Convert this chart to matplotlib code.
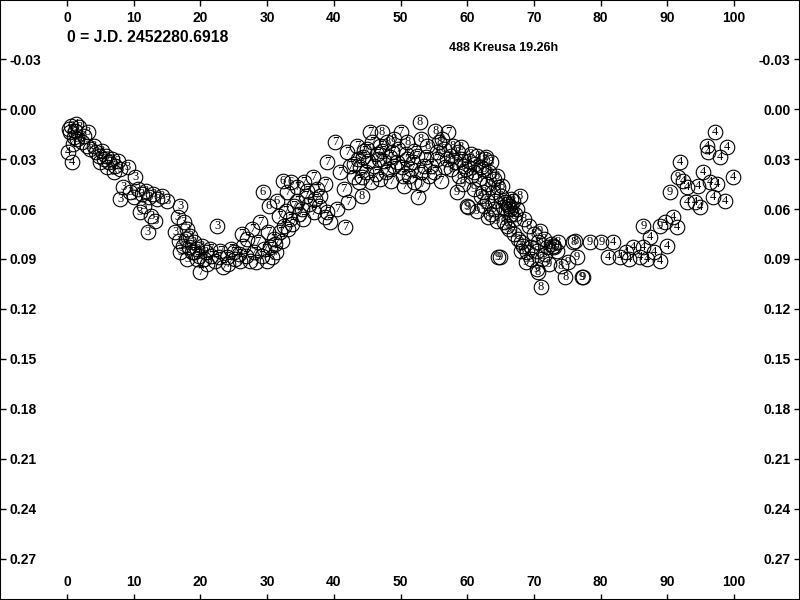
import matplotlib
matplotlib.use("Agg")
import matplotlib.pyplot as plt

# phase (%) and magnitude per observing session
s3_x = [0.3, 0.6, 1.2, 1.8, 3.1, 1.5, 2.2, 2.5, 3.0, 3.5, 4.0, 4.4, 4.8, 5.2, 5.5, 5.9,
        6.3, 6.8, 7.2, 7.6, 8.0, 6.0, 5.0, 7.0,
        9.1, 10.2, 8.4, 8.0, 9.5, 10.0, 10.6, 11.2, 11.8, 12.3, 12.9, 13.5, 14.2, 15.0,
        10.9, 11.5, 12.1, 13.2, 12.6,
        17.0, 16.2, 17.0, 16.6, 17.5, 18.0, 17.8, 18.5, 19.0, 18.3, 19.5, 20.2, 16.8,
        22.5, 20.8, 17.4, 18.8, 19.8, 18.0]
s3_y = [0.012, 0.010, 0.013, 0.011, 0.014, 0.018, 0.020, 0.016, 0.022, 0.024, 0.022, 0.026,
        0.028, 0.025, 0.030, 0.028, 0.032, 0.030, 0.034, 0.031, 0.036, 0.035, 0.032, 0.038,
        0.035, 0.041, 0.047, 0.054, 0.050, 0.053, 0.048, 0.051, 0.049, 0.053, 0.051, 0.054,
        0.052, 0.055, 0.062, 0.058, 0.074, 0.067, 0.064,
        0.058, 0.074, 0.086, 0.065, 0.068, 0.072, 0.078, 0.076, 0.080, 0.083, 0.084, 0.082,
        0.079, 0.070, 0.086, 0.082, 0.086, 0.088, 0.090]

s4_x = [0.2, 0.7, 1.0, 0.4, 1.4, 0.9,
        81.9, 81.1, 82.9, 84.9, 86.4, 85.9, 88.9, 90.0, 87.4, 83.8, 84.2, 87.0, 88.0,
        90.9, 91.5, 89.6, 97.2, 96.0, 99.0, 96.1, 97.9, 91.9, 95.4, 99.8, 93.0, 94.6,
        96.4, 97.5, 96.9, 98.7, 93.0, 94.2, 94.9, 92.4]
s4_y = [0.026, 0.032, 0.017, 0.014, 0.009, 0.021,
        0.080, 0.089, 0.089, 0.083, 0.083, 0.089, 0.091, 0.082, 0.077, 0.086, 0.090, 0.090,
        0.086, 0.065, 0.071, 0.068, 0.014, 0.022, 0.023, 0.026, 0.029, 0.032, 0.038, 0.041,
        0.047, 0.046, 0.044, 0.045, 0.053, 0.055, 0.056, 0.056, 0.059, 0.043]

s6_x = [29.4, 32.4, 33.6, 30.3, 31.5]
s6_y = [0.050, 0.043, 0.044, 0.058, 0.055]

s7_x = [20.0, 19.5, 21.0, 21.6, 22.2, 23.4, 23.0, 24.0, 24.6, 25.2, 25.8, 26.4, 27.4, 27.0,
        28.0, 28.6, 29.2, 30.0, 30.5, 31.0, 31.4, 32.0, 32.5, 26.2, 27.8, 29.0, 30.2, 31.8,
        32.8, 33.5, 34.0, 34.5, 35.2, 35.8, 36.3, 33.0, 34.5, 36.9, 35.5, 37.5, 38.0, 38.7,
        37.0, 38.7, 39.4, 41.7, 39.0, 40.5, 39.0, 40.2, 42.0, 41.0, 42.5, 43.0, 43.6, 44.4,
        45.4, 45.0, 46.0, 46.5, 47.0, 47.5, 48.2, 48.8, 49.5, 50.0, 50.4, 51.0, 51.6, 52.0,
        52.6, 53.2, 53.5, 54.2, 55.0, 57.1, 43.8, 44.8, 41.5, 42.2,
        43.5, 44.0, 44.6, 45.2, 45.8, 46.3, 46.8, 47.3, 47.8, 48.4, 49.0, 49.6, 50.2, 50.8,
        51.3, 51.9, 52.4, 53.0, 53.8, 54.5, 55.4, 56.0, 56.6, 43.0, 44.2, 45.6, 47.0, 48.6,
        50.5, 52.0,
        19.0, 20.5, 21.5, 22.8, 24.2, 25.0, 26.0, 26.8, 28.4, 29.6, 30.8, 31.2, 32.2, 33.2,
        33.8, 34.8, 35.4, 36.0, 37.2, 37.8]
s7_y = [0.098, 0.090, 0.093, 0.088, 0.091, 0.095, 0.085, 0.089, 0.084, 0.090, 0.087, 0.082,
        0.091, 0.078, 0.086, 0.080, 0.088, 0.091, 0.083, 0.078, 0.086, 0.074, 0.070, 0.075,
        0.072, 0.068, 0.074, 0.064, 0.061, 0.066, 0.058, 0.055, 0.060, 0.052, 0.057, 0.050,
        0.047, 0.041, 0.044, 0.048, 0.052, 0.045, 0.062, 0.065, 0.068, 0.071, 0.062, 0.060,
        0.032, 0.020, 0.026, 0.038, 0.034, 0.041, 0.030, 0.029, 0.014, 0.024, 0.034, 0.027,
        0.022, 0.031, 0.036, 0.026, 0.032, 0.014, 0.040, 0.030, 0.036, 0.025, 0.053, 0.045,
        0.034, 0.040, 0.038, 0.014, 0.044, 0.038, 0.048, 0.056,
        0.022, 0.035, 0.025, 0.031, 0.020, 0.039, 0.030, 0.025, 0.038, 0.029, 0.034, 0.024,
        0.035, 0.027, 0.040, 0.032, 0.028, 0.038, 0.029, 0.034, 0.030, 0.043, 0.035, 0.033,
        0.041, 0.044, 0.042, 0.043, 0.046, 0.044,
        0.086, 0.090, 0.084, 0.089, 0.093, 0.086, 0.091, 0.088, 0.092, 0.084, 0.089, 0.081,
        0.079, 0.072, 0.069, 0.063, 0.066, 0.049, 0.054, 0.058]

s8_x = [47.2, 52.9, 55.2, 44.2, 48.0, 49.0, 51.0, 53.0, 54.0, 55.8, 56.5, 57.5, 58.2, 59.0,
        59.8, 60.5, 61.2, 62.0, 62.6, 63.3, 64.0, 64.6, 65.0, 65.6, 66.2, 66.8, 67.4, 67.9,
        63.1, 66.5, 68.5, 69.2, 70.0, 70.6, 71.5, 72.5, 73.0, 73.6, 74.7, 75.9, 76.2, 70.6,
        71.0, 69.5, 68.0, 74.0, 59.0, 60.5, 61.5, 62.8, 63.5,
        55.5, 56.2, 57.0, 57.8, 58.6, 59.5, 60.2, 61.0, 61.8, 62.4, 63.0, 63.8, 64.4, 65.2,
        65.8, 66.0, 66.4, 65.4, 66.6, 67.2, 64.2, 62.4, 58.8, 57.6]
s8_y = [0.014, 0.008, 0.013, 0.052, 0.020, 0.018, 0.020, 0.018, 0.022, 0.020, 0.024, 0.028,
        0.032, 0.030, 0.036, 0.040, 0.033, 0.035, 0.030, 0.038, 0.042, 0.047, 0.052, 0.056,
        0.058, 0.055, 0.060, 0.052, 0.065, 0.063, 0.066, 0.070, 0.075, 0.080, 0.078, 0.081,
        0.083, 0.080, 0.101, 0.080, 0.079, 0.098, 0.107, 0.090, 0.085, 0.094, 0.023, 0.027,
        0.028, 0.029, 0.032,
        0.026, 0.018, 0.030, 0.022, 0.026, 0.034, 0.031, 0.038, 0.042, 0.036, 0.045, 0.050,
        0.040, 0.046, 0.060, 0.057, 0.060, 0.059, 0.054, 0.063, 0.055, 0.050, 0.040, 0.036]

s9_x = [60.1, 58.5, 59.4, 61.0, 62.0, 63.0, 64.0, 64.6, 64.9, 65.5, 66.3, 67.0, 67.6, 68.4,
        69.0, 70.9, 71.6, 72.3, 70.5, 77.2, 78.4, 77.4, 76.5, 75.1, 80.1, 86.4, 88.9, 90.4,
        91.6, 72.9, 73.5, 72.0,
        60.0, 61.5, 62.5, 63.5, 64.5, 66.0, 67.0, 68.0, 69.5, 70.5, 71.2, 68.8]
s9_y = [0.059, 0.050, 0.045, 0.048, 0.052, 0.055, 0.060, 0.089, 0.089, 0.068, 0.072, 0.066,
        0.078, 0.082, 0.086, 0.073, 0.087, 0.093, 0.096, 0.101, 0.080, 0.101, 0.089, 0.092,
        0.080, 0.070, 0.070, 0.050, 0.041, 0.082, 0.085, 0.083,
        0.058, 0.061, 0.058, 0.063, 0.067, 0.070, 0.075, 0.080, 0.083, 0.085, 0.090, 0.092]

sessions = [("3", s3_x, s3_y), ("4", s4_x, s4_y), ("6", s6_x, s6_y),
            ("7", s7_x, s7_y), ("8", s8_x, s8_y), ("9", s9_x, s9_y)]

x_ticks = [0, 10, 20, 30, 40, 50, 60, 70, 80, 90, 100]
y_ticks = [-0.03, 0.00, 0.03, 0.06, 0.09, 0.12, 0.15, 0.18, 0.21, 0.24, 0.27]

fig = plt.figure(figsize=(8, 6), dpi=100)
ax = fig.add_axes([0, 0, 1, 1])

for label, xs, ys in sessions:
    ax.plot(xs, ys, "o", ms=10.5, mfc="none", mec="black", mew=0.8)
    for x, y in zip(xs, ys):
        ax.text(x, y, label, ha="center", va="center", fontsize=9,
                family="Liberation Serif", color="black")

ax.set_xlim(-10.05, 109.9)
ax.set_ylim(0.2946, -0.0654)

ax.set_xticks(x_ticks)
ax.set_xticklabels([str(t) for t in x_ticks])
ax.set_yticks(y_ticks)
ax.set_yticklabels([f"{t:.2f}" for t in y_ticks])

ax.tick_params(axis="both", direction="in", length=4, width=1, color="black",
               labelsize=10, top=True, bottom=True, left=True, right=True,
               labeltop=True, labelbottom=True, labelleft=True, labelright=True)
ax.tick_params(axis="y", which="both", pad=-7)
ax.tick_params(axis="x", which="both", pad=-8)

for lab in ax.get_yticklabels():
    lab.set_fontweight("bold")
    lab.set_family("Liberation Sans")
    lab.set_horizontalalignment("left")
for tick in ax.yaxis.get_major_ticks():
    tick.label2.set_fontweight("bold")
    tick.label2.set_family("Liberation Sans")
    tick.label2.set_horizontalalignment("right")
for tick in ax.xaxis.get_major_ticks():
    tick.label1.set_fontweight("bold")
    tick.label1.set_family("Liberation Sans")
    tick.label1.set_verticalalignment("bottom")
    tick.label2.set_fontweight("bold")
    tick.label2.set_family("Liberation Sans")
    tick.label2.set_verticalalignment("top")

for sp in ax.spines.values():
    sp.set_linewidth(1.5)
    sp.set_color("black")

fig.text(0.084, 0.937, "0 = J.D. 2452280.6918", ha="left", va="center",
         fontsize=11.3, fontweight="bold", family="Liberation Sans")
fig.text(0.561, 0.920, "488 Kreusa 19.26h", ha="left", va="center",
         fontsize=9, fontweight="bold", family="Liberation Sans")

fig.savefig("out.png", dpi=100, facecolor="white")
